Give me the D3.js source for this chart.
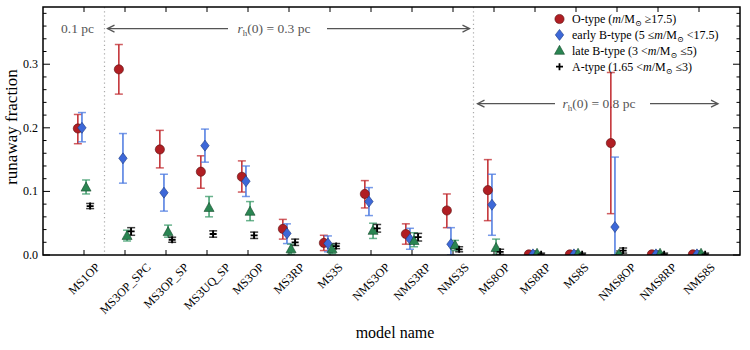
<!DOCTYPE html>
<html><head><meta charset="utf-8">
<script src="https://cdn.jsdelivr.net/npm/d3@7"></script>
<style>body{margin:0;background:#fff} text{font-family:'Liberation Serif','Times New Roman','DejaVu Serif',serif}</style>
</head><body><svg id="c" width="750" height="350" font-family="Liberation Serif, Times New Roman, serif"></svg>
<script>
const categories=["MS1OP","MS3OP_SPC","MS3OP_SP","MS3UQ_SP","MS3OP","MS3RP","MS3S","NMS3OP","NMS3RP","NMS3S","MS8OP","MS8RP","MS8S","NMS8OP","NMS8RP","NMS8S"];
// O-type
const oVal=[0.199,0.292,0.166,0.131,0.123,0.041,0.019,0.096,0.033,0.070,0.102,0.001,0.001,0.176,0.001,0.001];
const oLo =[0.175,0.253,0.137,0.105,0.099,0.025,0.007,0.074,0.017,0.043,0.054,0.000,0.000,0.065,0.000,0.000];
const oHi =[0.221,0.331,0.196,0.156,0.148,0.056,0.031,0.117,0.049,0.096,0.150,0.002,0.002,0.287,0.002,0.002];
// early B-type
const ebVal=[0.200,0.152,0.098,0.172,0.116,0.034,0.018,0.084,0.025,0.017,0.079,0.001,0.001,0.044,0.001,0.001];
const ebLo =[0.178,0.113,0.069,0.146,0.092,0.018,0.005,0.062,0.009,0.000,0.031,0.000,0.000,0.000,0.000,0.000];
const ebHi =[0.224,0.191,0.127,0.198,0.140,0.049,0.030,0.106,0.042,0.043,0.127,0.002,0.002,0.154,0.002,0.002];
// late B-type
const lbVal=[0.106,0.030,0.036,0.074,0.068,0.009,0.009,0.038,0.022,0.015,0.011,0.002,0.002,0.001,0.002,0.002];
const lbLo =[0.096,0.022,0.028,0.060,0.054,0.001,0.002,0.026,0.013,0.007,0.000,0.000,0.000,0.000,0.000,0.000];
const lbHi =[0.118,0.039,0.047,0.092,0.084,0.017,0.016,0.050,0.035,0.023,0.025,0.004,0.004,0.003,0.004,0.004];
// A-type
const aVal=[0.077,0.037,0.024,0.033,0.031,0.020,0.014,0.042,0.028,0.009,0.005,0.001,0.001,0.007,0.001,0.001];
const aErr=[0.004,0.006,0.004,0.005,0.005,0.005,0.004,0.006,0.006,0.004,0.004,0.002,0.002,0.004,0.002,0.002];
const yTicks=[0.0,0.1,0.2,0.3];
const yMinor=d3.range(0,0.39,0.02);
const regionLines=[0.5,9.5];

const svg=d3.select("#c");
const L=43,R=740,T=7,B=255;
const x=d3.scaleLinear().domain([-1,16]).range([L,R]);
const y=d3.scaleLinear().domain([0,0.39]).range([B,T]);

svg.append("defs").append("clipPath").attr("id","clip").append("rect").attr("x",L).attr("y",T).attr("width",R-L).attr("height",B-T);

// region lines
svg.selectAll(".rl").data(regionLines).join("line").attr("x1",d=>x(d)).attr("x2",d=>x(d)).attr("y1",T).attr("y2",B)
 .attr("stroke","#aaa").attr("stroke-width",1.2).attr("stroke-dasharray","1.2,3");

// ticks (inward)
const tk=svg.append("g");
categories.forEach((c,i)=>{
  tk.append("line").attr("x1",x(i)).attr("x2",x(i)).attr("y1",B).attr("y2",B-5).attr("stroke","#000");
  tk.append("line").attr("x1",x(i)).attr("x2",x(i)).attr("y1",T).attr("y2",T+5).attr("stroke","#000");
});
yMinor.forEach(v=>{
  const major=yTicks.some(t=>Math.abs(t-v)<1e-6);
  const len=major?7:3.5;
  tk.append("line").attr("x1",L).attr("x2",L+len).attr("y1",y(v)).attr("y2",y(v)).attr("stroke","#000");
  tk.append("line").attr("x1",R).attr("x2",R-len).attr("y1",y(v)).attr("y2",y(v)).attr("stroke","#000");
});
svg.selectAll(".yl").data(yTicks).join("text").attr("x",L-5).attr("y",d=>y(d)+4).attr("text-anchor","end")
 .attr("font-size",12).text(d=>d.toFixed(1));

// x tick labels rotated 45, centered on tick
categories.forEach((c,i)=>{
  const t=svg.append("text").attr("font-size",12).attr("text-anchor","middle").text(c);
  const len=t.node().getComputedTextLength();
  const h=8.5;
  const half=(len+h)*0.7071/2;
  t.attr("transform",`translate(${x(i)},${262+half}) rotate(-45)`).attr("dy","0.35em");
});

// axis labels
svg.append("text").attr("x",395).attr("y",338).attr("text-anchor","middle").attr("font-size",16).text("model name");
svg.append("text").attr("transform","translate(17,127) rotate(-90)").attr("text-anchor","middle").attr("font-size",17).text("runaway fraction");

// annotations
const ann=svg.append("g").attr("font-size",13.5);
function arrowHead(g,xp,yp,dir){
  g.append("path").attr("d",`M${xp-dir*7},${yp-3.5} L${xp},${yp} L${xp-dir*7},${yp+3.5}`).attr("fill","none").attr("stroke","#555").attr("stroke-width",1.3);
}
function rh(g,cx,yy,val){
  const t=g.append("text").attr("x",cx).attr("y",yy+4.5).attr("text-anchor","middle").attr("fill","#555");
  t.append("tspan").attr("font-style","italic").text("r");
  t.append("tspan").attr("font-size",9).attr("dy",3).text("h");
  t.append("tspan").attr("dy",-3).text("(0) = "+val+" pc");
  return t;
}
const yA1=y(0.356);
ann.append("text").attr("x",61).attr("y",yA1+4.5).attr("fill","#555").text("0.1 pc");
ann.append("line").attr("x1",x(0.5)+3).attr("x2",x(9.5)-4).attr("y1",yA1).attr("y2",yA1).attr("stroke","#555").attr("stroke-width",1.3);
ann.append("rect").attr("x",228).attr("y",yA1-9).attr("width",99).attr("height",18).attr("fill","#fff");
rh(ann,274,yA1,"0.3");
arrowHead(ann,x(0.5)+3,yA1,-1);arrowHead(ann,x(9.5)-4,yA1,1);
const yA2=y(0.238);
ann.append("line").attr("x1",x(9.5)+4).attr("x2",718).attr("y1",yA2).attr("y2",yA2).attr("stroke","#555").attr("stroke-width",1.3);
ann.append("rect").attr("x",555).attr("y",yA2-9).attr("width",95).attr("height",18).attr("fill","#fff");
rh(ann,599,yA2,"0.8");
arrowHead(ann,x(9.5)+4,yA2,-1);arrowHead(ann,718,yA2,1);

// series
const plot=svg.append("g").attr("clip-path","url(#clip)");
const series=[
 {val:oVal,lo:oLo,hi:oHi,off:-0.15,col:"#c0282d",fill:"#b01e23",shape:"circle"},
 {val:ebVal,lo:ebLo,hi:ebHi,off:-0.05,col:"#4a78e0",fill:"#3d68d8",shape:"diamond"},
 {val:lbVal,lo:lbLo,hi:lbHi,off:0.05,col:"#3a9a68",fill:"#2a8552",shape:"triangle"},
 {val:aVal,lo:aVal.map((v,i)=>v-aErr[i]),hi:aVal.map((v,i)=>v+aErr[i]),off:0.15,col:"#000",fill:"#000",shape:"plus"}
];
series.forEach(s=>{
  s.val.forEach((v,i)=>{
    const cx=x(i+s.off);
    const g=plot.append("g");
    g.append("line").attr("x1",cx).attr("x2",cx).attr("y1",y(s.lo[i])).attr("y2",y(s.hi[i])).attr("stroke",s.col).attr("stroke-width",1.5);
    [s.lo[i],s.hi[i]].forEach(e=>g.append("line").attr("x1",cx-4).attr("x2",cx+4).attr("y1",y(e)).attr("y2",y(e)).attr("stroke",s.col).attr("stroke-width",1.5).attr("stroke-opacity",0.75));
  });
});
series.forEach(s=>{
  s.val.forEach((v,i)=>{
    const cx=x(i+s.off),cy=y(v);
    if(s.shape==="circle") plot.append("circle").attr("cx",cx).attr("cy",cy).attr("r",4.6).attr("fill",s.fill).attr("stroke","#5a1010").attr("stroke-width",0.6);
    else if(s.shape==="diamond") plot.append("path").attr("d",`M${cx},${cy-5.5}L${cx+4.2},${cy}L${cx},${cy+5.5}L${cx-4.2},${cy}Z`).attr("fill",s.fill).attr("stroke","#1d3a80").attr("stroke-width",0.6);
    else if(s.shape==="triangle") plot.append("path").attr("d",`M${cx},${cy-5.5}L${cx+5},${cy+3.5}L${cx-5},${cy+3.5}Z`).attr("fill",s.fill).attr("stroke","#164a2c").attr("stroke-width",0.6);
    else {plot.append("path").attr("d",`M${cx-3.5},${cy}H${cx+3.5}M${cx},${cy-3.5}V${cy+3.5}`).attr("stroke","#000").attr("stroke-width",1.8);}
  });
});

// frame
svg.append("rect").attr("x",L).attr("y",T).attr("width",R-L).attr("height",B-T).attr("fill","none").attr("stroke","#000").attr("stroke-width",1.5);

// legend
const lg=svg.append("g").attr("font-size",12);
const legRows=[
 {shape:"circle",pre:"O-type (",rel2:" ≥17.5)"},
 {shape:"diamond",pre:"early B-type (5 ≤",rel2:" <17.5)"},
 {shape:"triangle",pre:"late B-type (3 <",rel2:" ≤5)"},
 {shape:"plus",pre:"A-type (1.65 <",rel2:" ≤3)"}
];
legRows.forEach((r,k)=>{
  const cy=19+k*15.9, cx=559.5, s=series[k];
  if(r.shape==="circle") lg.append("circle").attr("cx",cx).attr("cy",cy).attr("r",4.6).attr("fill",s.fill).attr("stroke","#5a1010").attr("stroke-width",0.6);
  else if(r.shape==="diamond") lg.append("path").attr("d",`M${cx},${cy-5.5}L${cx+4.2},${cy}L${cx},${cy+5.5}L${cx-4.2},${cy}Z`).attr("fill",s.fill).attr("stroke","#1d3a80").attr("stroke-width",0.6);
  else if(r.shape==="triangle") lg.append("path").attr("d",`M${cx},${cy-5.5}L${cx+5},${cy+3.5}L${cx-5},${cy+3.5}Z`).attr("fill",s.fill).attr("stroke","#164a2c").attr("stroke-width",0.6);
  else lg.append("path").attr("d",`M${cx-3.5},${cy}H${cx+3.5}M${cx},${cy-3.5}V${cy+3.5}`).attr("stroke","#000").attr("stroke-width",1.8);
  const t=lg.append("text").attr("x",572).attr("y",cy+4);
  t.append("tspan").text(r.pre);
  t.append("tspan").attr("font-style","italic").text("m");
  t.append("tspan").text("/M");
  t.append("tspan").attr("font-size",8).attr("dy",3).text("⊙");
  t.append("tspan").attr("dy",-3).text(r.rel2);
});
</script></body></html>
